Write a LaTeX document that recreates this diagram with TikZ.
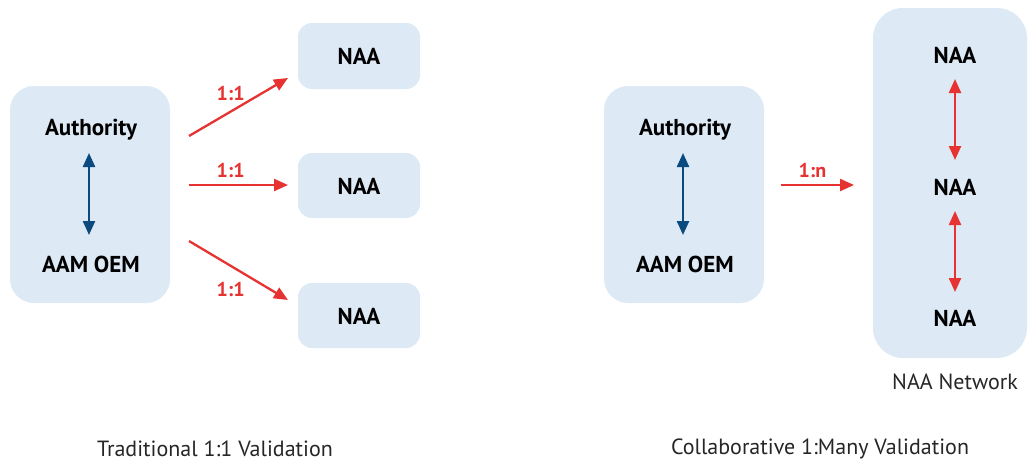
\documentclass[tikz,border=0pt]{standalone}
\usepackage{fontspec}
\setmainfont{PT Sans}
\usetikzlibrary{arrows.meta}

\definecolor{boxfill}{RGB}{221,233,245}
\definecolor{linkred}{RGB}{230,51,49}
\definecolor{linkblue}{RGB}{11,74,126}

\tikzset{every picture/.style={line width=0.75pt}}
\tikzset{
  panel/.style={fill=boxfill, draw=none, rounded corners=24pt},
  label/.style={font=\bfseries\fontsize{23}{26}\selectfont, text=black},
  ratio/.style={font=\bfseries\fontsize{20}{23}\selectfont, text=linkred},
  caption/.style={font=\fontsize{22}{25}\selectfont, text=black!85, inner sep=0pt},
  redlink/.style={draw=linkred, line width=2.3pt, -{Triangle[length=14pt,width=12pt]}},
  redpair/.style={draw=linkred, line width=2.3pt, {Triangle[length=14pt,width=12pt]}-{Triangle[length=14pt,width=12pt]}},
  bluepair/.style={draw=linkblue, line width=2.3pt, {Triangle[length=14pt,width=12pt]}-{Triangle[length=14pt,width=12pt]}}
}

\begin{document}
\begin{tikzpicture}[x=1pt,y=1pt,yscale=-1,xscale=1]
\useasboundingbox (0,0) rectangle (1028,461);

%Shape: Rounded Rectangle [id:left panel]
\draw [panel] (10,86) rectangle (170,303);
%Shape: Rounded Rectangle [id:naa boxes]
\draw [panel, rounded corners=14pt] (298,23) rectangle (420,89);
\draw [panel, rounded corners=14pt] (298,153) rectangle (420,218);
\draw [panel, rounded corners=14pt] (298,283) rectangle (420,348);
%Shape: Rounded Rectangle [id:right panel]
\draw [panel] (604,86) rectangle (764,303);
%Shape: Rounded Rectangle [id:network]
\draw [panel, rounded corners=30pt] (873,8) rectangle (1027,358);

% Text Node
\draw (91,130) node [label] (authL) {Authority};
\draw (91,264) node [label] (oemL) {AAM OEM};
\draw (359,56) node [label] (naaA) {NAA};
\draw (359,186) node [label] (naaB) {NAA};
\draw (359,316) node [label] (naaC) {NAA};
\draw (685,130) node [label] (authR) {Authority};
\draw (685,264) node [label] (oemR) {AAM OEM};
\draw (955,55) node [label] (netA) {NAA};
\draw (955,187) node [label] (netB) {NAA};
\draw (955,318) node [label] (netC) {NAA};
\draw (955,382) node [caption] (netname) {NAA Network};
\draw (215,449) node [caption] (capL) {Traditional 1:1 Validation};
\draw (820,449) node [caption] (capR) {Collaborative 1:Many Validation};

% Ends of the free arrows
\coordinate (t1s) at (189,136); \coordinate (t1e) at (288,78);
\coordinate (t2s) at (189,185); \coordinate (t2e) at (288,185);
\coordinate (t3s) at (189,241); \coordinate (t3e) at (288,300);
\coordinate (cs) at (781,185);  \coordinate (ce) at (854,185);
\coordinate (bLs) at (89,153);  \coordinate (bLe) at (89,235);
\coordinate (bRs) at (683,153); \coordinate (bRe) at (683,235);
\coordinate (n1s) at (955,79);  \coordinate (n1e) at (955,160);
\coordinate (n2s) at (955,211); \coordinate (n2e) at (955,292);

%Straight Lines [id:blue pairs]
\draw [bluepair] (bLs) -- (bLe);
\draw [bluepair] (bRs) -- (bRe);

%Straight Lines [id:one to one]
\draw [redlink] (t1s) -- (t1e) node [ratio, pos=0.42, above=6pt] {1:1};
\draw [redlink] (t2s) -- (t2e) node [ratio, pos=0.42, above=3pt] {1:1};
\draw [redlink] (t3s) -- (t3e) node [ratio, pos=0.42, below=12pt] {1:1};

%Straight Lines [id:one to many]
\draw [redlink] (cs) -- (ce) node [ratio, pos=0.43, above=3pt] {1:n};

%Straight Lines [id:network pairs]
\draw [redpair] (n1s) -- (n1e);
\draw [redpair] (n2s) -- (n2e);

\end{tikzpicture}
\end{document}
